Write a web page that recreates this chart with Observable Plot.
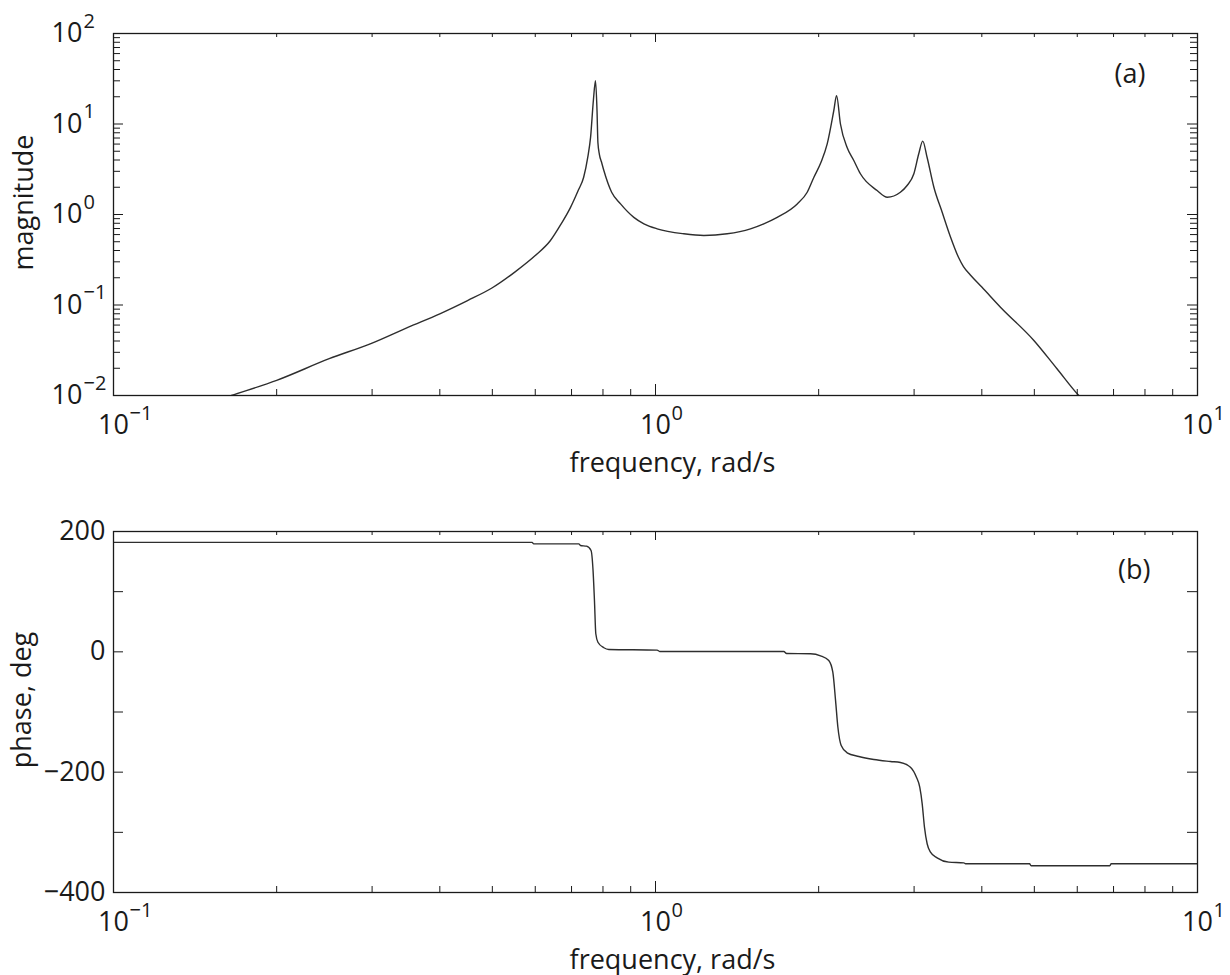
<!DOCTYPE html>
<html><head><meta charset="utf-8">
<script src="https://cdn.jsdelivr.net/npm/d3@7"></script>
<script src="https://cdn.jsdelivr.net/npm/@observablehq/plot@0.6"></script>
<style>
html,body{margin:0;padding:0;background:#fff;}
#chart{width:1230px;height:975px;overflow:hidden;background:#fff;}
#chart svg{display:block;}
</style></head><body><div id="chart"></div>
<script>
// ---- data ----
const magFreq = [0.10, 0.12, 0.14, 0.165, 0.20, 0.25, 0.30, 0.35, 0.40, 0.45, 0.50, 0.55, 0.60, 0.64, 0.67, 0.697, 0.72, 0.737, 0.75, 0.759, 0.768, 0.775, 0.780, 0.783, 0.788, 0.795, 0.803, 0.83, 0.862, 0.912, 0.952, 1.007, 1.128, 1.228, 1.356, 1.497, 1.584, 1.677, 1.826, 1.905, 1.96, 2.02, 2.074, 2.133, 2.158, 2.194, 2.257, 2.322, 2.388, 2.564, 2.677, 2.83, 2.912, 2.997, 3.06, 3.112, 3.17, 3.263, 3.38, 3.503, 3.628, 3.70, 3.81, 4.0, 4.33, 4.99, 5.5, 6.04, 6.3];
const magValue = [0.0037, 0.0053, 0.0072, 0.010, 0.0147, 0.0255, 0.038, 0.057, 0.080, 0.112, 0.155, 0.231, 0.352, 0.516, 0.79, 1.2, 1.84, 2.58, 4.3, 7.15, 18.2, 30, 14.1, 6.2, 4.6, 3.8, 3.06, 1.76, 1.31, 0.93, 0.789, 0.695, 0.612, 0.586, 0.612, 0.695, 0.789, 0.93, 1.31, 1.76, 2.58, 3.78, 6.04, 14.1, 20.6, 10.0, 5.5, 3.95, 2.82, 1.84, 1.55, 1.76, 2.09, 2.82, 4.69, 6.46, 4.29, 2.0, 1.06, 0.561, 0.33, 0.265, 0.215, 0.158, 0.0946, 0.0406, 0.0199, 0.010, 0.0078];

const phaseFreq = [0.1, 0.592, 0.596, 0.722, 0.727, 0.746, 0.7605, 0.767, 0.7716, 0.776, 0.783, 0.803, 0.820, 1.007, 1.018, 1.725, 1.745, 1.932, 2.016, 2.088, 2.124, 2.149, 2.170, 2.201, 2.257, 2.372, 2.528, 2.714, 2.831, 2.954, 3.03, 3.073, 3.105, 3.135, 3.171, 3.216, 3.308, 3.476, 3.705, 3.733, 4.90, 4.93, 6.89, 6.93, 10];
const phaseValue = [182, 182, 179.5, 179.5, 176.7, 175.6, 168.4, 135, 85, 30, 16, 6.8, 4.0, 2.8, 0.6, 0.6, -2.8, -3.3, -6.6, -14.4, -33.9, -81, -125, -155.7, -167.8, -174, -179, -182.3, -184, -191.7, -208.4, -225, -252.6, -291.4, -319, -333, -342.4, -349.6, -350.7, -352.3, -352.3, -355.5, -355.5, -352.3, -352.3];

const xMajorTicks = [0.1, 1, 10];
const xTickExponents = ["\u22121", "0", "1"];
const xMinorTicks = [0.2, 0.3, 0.4, 0.5, 0.6, 0.7, 0.8, 0.9, 2, 3, 4, 5, 6, 7, 8, 9];
const magMajorTicks = [0.01, 0.1, 1, 10, 100];
const magTickExponents = ["\u22122", "\u22121", "0", "1", "2"];
const magMinorTicks = [0.02,0.03,0.04,0.05,0.06,0.07,0.08,0.09, 0.2,0.3,0.4,0.5,0.6,0.7,0.8,0.9, 2,3,4,5,6,7,8,9, 20,30,40,50,60,70,80,90];
const phaseTicks = [-400, -300, -200, -100, 0, 100, 200];
const phaseLabelTicks = [-400, -200, 0, 200];
const xLabel = "frequency, rad/s";
const magLabel = "magnitude";
const phaseLabel = "phase, deg";
const panelLabels = ["(a)", "(b)"];

// ---- layout / style ----
const W = 1230, mL = 113, mR = 33;
const innerW = W - mL - mR;
const FONT = "'Open Sans', 'Liberation Sans', sans-serif";
const FS = 27, FSUP = 20;
const ink = "#1a1a1a";
const lineInk = "#2e2e2e";

const magData = magFreq.map((f, i) => ({f, v: magValue[i]}));
const phaseData = phaseFreq.map((f, i) => ({f, v: phaseValue[i]}));

function xTickMarks(innerH) {
  return [
    Plot.ruleX(xMinorTicks, {x: d => d, insetTop: innerH - 6, stroke: ink}),
    Plot.ruleX(xMajorTicks, {x: d => d, insetTop: innerH - 11, stroke: ink}),
    Plot.ruleX(xMinorTicks, {x: d => d, insetBottom: innerH - 4, stroke: ink}),
    Plot.ruleX(xMajorTicks, {x: d => d, insetBottom: innerH - 9, stroke: ink}),
    Plot.axisX(xMajorTicks, {anchor: "bottom", tickSize: 0, tickPadding: 19, tickFormat: () => "10",
      fontSize: FS, fontFamily: FONT, fill: ink, label: null}),
    Plot.axisX(xMajorTicks, {anchor: "bottom", tickSize: 0, tickPadding: 10,
      tickFormat: d => xTickExponents[xMajorTicks.indexOf(d)], textAnchor: "start", dx: 16,
      fontSize: FSUP, fontFamily: FONT, fill: ink, label: null})
  ];
}

function xTitle(dy) {
  return Plot.text([xLabel], {text: d => d, frameAnchor: "bottom", dx: 17, dy, lineAnchor: "bottom",
    fontSize: FS, fontFamily: FONT, fill: ink});
}

// ---- top panel: magnitude ----
const topH = 470, topMT = 33, topMB = 75;
const topInner = topH - topMT - topMB;
const magChart = Plot.plot({
  width: W, height: topH,
  marginLeft: mL, marginRight: mR, marginTop: topMT, marginBottom: topMB,
  style: {fontFamily: FONT, fontSize: FS + "px", background: "#fff", color: ink, overflow: "visible"},
  x: {type: "log", domain: [0.1, 10], label: null},
  y: {type: "log", domain: [0.01, 100], label: null},
  marks: [
    Plot.line(magData, {x: "f", y: "v", stroke: lineInk, strokeWidth: 1.4, curve: "monotone-x", clip: true}),
    ...xTickMarks(topInner),
    Plot.ruleY(magMinorTicks, {y: d => d, insetRight: innerW - 7, stroke: ink}),
    Plot.ruleY(magMajorTicks, {y: d => d, insetRight: innerW - 10, stroke: ink}),
    Plot.ruleY(magMinorTicks, {y: d => d, insetLeft: innerW - 7, stroke: ink}),
    Plot.ruleY(magMajorTicks, {y: d => d, insetLeft: innerW - 10, stroke: ink}),
    Plot.axisY(magMajorTicks, {anchor: "left", tickSize: 0, tickPadding: 31, tickFormat: () => "10",
      fontSize: FS, fontFamily: FONT, fill: ink, label: null}),
    Plot.axisY(magMajorTicks, {anchor: "left", tickSize: 0, tickPadding: 30,
      tickFormat: d => magTickExponents[magMajorTicks.indexOf(d)], textAnchor: "start", dy: -12,
      fontSize: FSUP, fontFamily: FONT, fill: ink, label: null}),
    Plot.frame({stroke: ink, strokeWidth: 1.3}),
    xTitle(76),
    Plot.text([magLabel], {text: d => d, frameAnchor: "left", dx: -89, dy: -12, rotate: -90,
      textAnchor: "middle", lineAnchor: "middle", fontSize: FS, fontFamily: FONT, fill: ink}),
    Plot.text([panelLabels[0]], {text: d => d, frameAnchor: "top-right", dx: -52, dy: 41,
      textAnchor: "end", lineAnchor: "middle", fontSize: FS, fontFamily: FONT, fill: ink})
  ]
});

// ---- bottom panel: phase ----
const botH = 505, botMT = 61, botMB = 83;
const botInner = botH - botMT - botMB;
const phaseChart = Plot.plot({
  width: W, height: botH,
  marginLeft: mL, marginRight: mR, marginTop: botMT, marginBottom: botMB,
  style: {fontFamily: FONT, fontSize: FS + "px", background: "#fff", color: ink, overflow: "visible"},
  x: {type: "log", domain: [0.1, 10], label: null},
  y: {domain: [-400, 200], label: null},
  marks: [
    Plot.line(phaseData, {x: "f", y: "v", stroke: lineInk, strokeWidth: 1.4, curve: "monotone-x", clip: true}),
    ...xTickMarks(botInner),
    Plot.ruleY(phaseTicks, {y: d => d, insetRight: innerW - 10, stroke: ink}),
    Plot.ruleY(phaseTicks, {y: d => d, insetLeft: innerW - 10, stroke: ink}),
    Plot.axisY(phaseLabelTicks, {anchor: "left", tickSize: 0, tickPadding: 8,
      tickFormat: d => d < 0 ? "\u2212" + (-d) : String(d),
      fontSize: FS, fontFamily: FONT, fill: ink, label: null}),
    Plot.frame({stroke: ink, strokeWidth: 1.3}),
    xTitle(76),
    Plot.text([phaseLabel], {text: d => d, frameAnchor: "left", dx: -91, dy: -12, rotate: -90,
      textAnchor: "middle", lineAnchor: "middle", fontSize: FS, fontFamily: FONT, fill: ink}),
    Plot.text([panelLabels[1]], {text: d => d, frameAnchor: "top-right", dx: -47, dy: 39,
      textAnchor: "end", lineAnchor: "middle", fontSize: FS, fontFamily: FONT, fill: ink})
  ]
});

const chart = document.getElementById("chart");
chart.appendChild(magChart);
chart.appendChild(phaseChart);
</script>
</body></html>
